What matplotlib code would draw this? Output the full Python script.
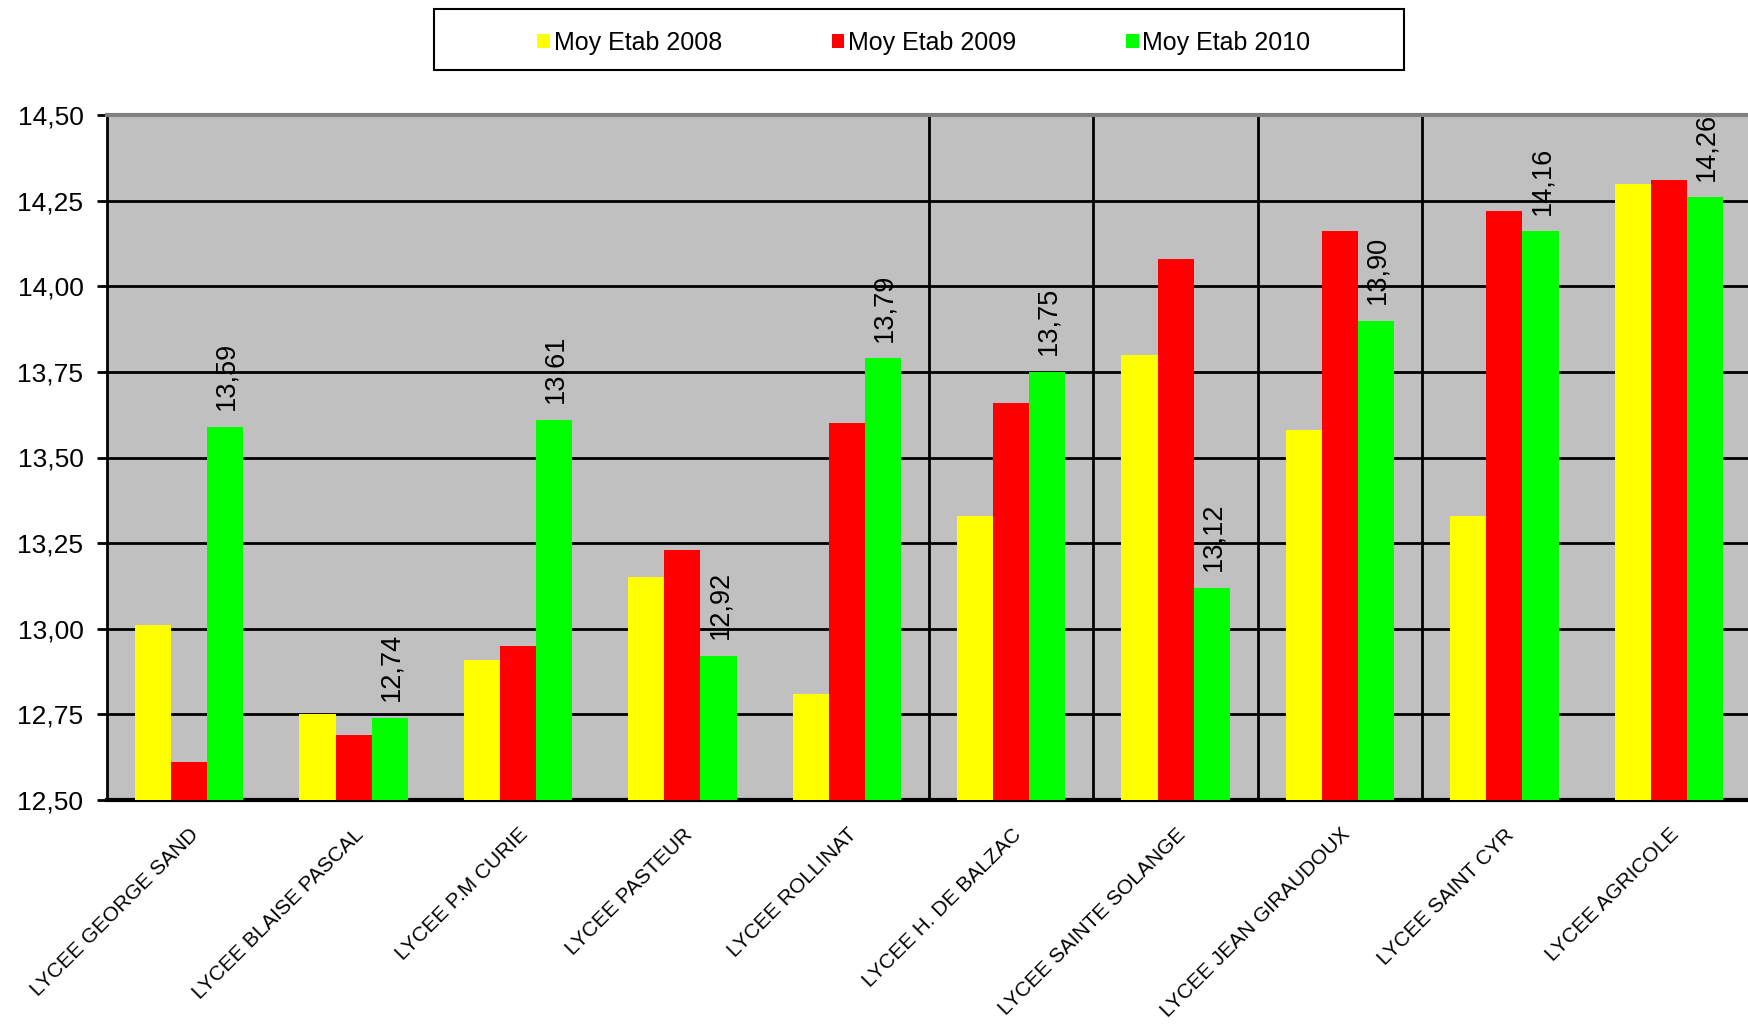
import matplotlib
matplotlib.use("Agg")
import matplotlib.pyplot as plt
import numpy as np
from matplotlib.ticker import FuncFormatter, MultipleLocator
from matplotlib.patches import Rectangle, Patch

plt.rcParams['font.family'] = ['Liberation Sans', 'DejaVu Sans']

categories = ["LYCEE GEORGE SAND", "LYCEE BLAISE PASCAL", "LYCEE P.M CURIE",
              "LYCEE PASTEUR", "LYCEE ROLLINAT", "LYCEE H. DE BALZAC",
              "LYCEE SAINTE SOLANGE", "LYCEE JEAN GIRAUDOUX", "LYCEE SAINT CYR",
              "LYCEE AGRICOLE"]
series_names = ["Moy Etab 2008", "Moy Etab 2009", "Moy Etab 2010"]
moy_2008 = [13.01, 12.75, 12.91, 13.15, 12.81, 13.33, 13.80, 13.58, 13.33, 14.30]
moy_2009 = [12.61, 12.69, 12.95, 13.23, 13.60, 13.66, 14.08, 14.16, 14.22, 14.31]
moy_2010 = [13.59, 12.74, 13.61, 12.92, 13.79, 13.75, 13.12, 13.90, 14.16, 14.26]
colors = ["#FFFF00", "#FF0000", "#00FF00"]
separator_after = [4, 5, 6, 7]  # vertical lines after these category indices

W, H = 1749, 1026
fig = plt.figure(figsize=(W / 100, H / 100), dpi=100)
ax = fig.add_axes([107 / W, 1 - 800 / H, (1751 - 107) / W, (800 - 115) / H])
ax.set_facecolor("#C0C0C0")

x = np.arange(len(categories))
bw = 0.22
all_series = [moy_2008, moy_2009, moy_2010]
for i, (vals, col) in enumerate(zip(all_series, colors)):
    ax.bar(x + (i - 1) * bw, vals, width=bw, color=col, edgecolor='none',
           zorder=3, label=series_names[i])

# labels on 2010 bars
for xi, v in zip(x, moy_2010):
    ax.annotate(f"{v:.2f}".replace('.', ','), xy=(xi + bw, v), xytext=(1, 12),
                textcoords='offset points', rotation=90, ha='center', va='bottom',
                fontsize=19.5, color='black', zorder=5, annotation_clip=False)

ax.set_xlim(-0.5, len(categories) - 0.5)
ax.set_ylim(12.5, 14.5)
ax.yaxis.set_major_locator(MultipleLocator(0.25))
ax.yaxis.set_major_formatter(FuncFormatter(lambda v, p: f"{v:.2f}".replace('.', ',')))
ax.yaxis.grid(True, color='black', linewidth=2, zorder=1)
ax.set_axisbelow(True)
for s in separator_after:
    ax.axvline(s + 0.5, color='black', linewidth=2, zorder=1)

ax.set_xticks(x)
ax.set_xticklabels(categories, rotation=45, ha='right', va='top',
                   rotation_mode='anchor', fontsize=15)
ax.tick_params(axis='x', length=0, pad=18)
ax.tick_params(axis='y', length=7, width=2, pad=10, labelsize=19, direction='out')

ax.spines['left'].set_color('black')
ax.spines['left'].set_linewidth(2)
ax.spines['bottom'].set_color('black')
ax.spines['bottom'].set_linewidth(3)
ax.spines['top'].set_color('#808080')
ax.spines['top'].set_linewidth(3)
ax.spines['right'].set_visible(False)

# legend box
fig.patches.append(Rectangle((434 / W, 1 - 70 / H), 970 / W, 61 / H,
                             transform=fig.transFigure, fill=False,
                             edgecolor='black', linewidth=1.5))
handles = [Patch(facecolor=c, edgecolor='none') for c in colors]
fig.legend(handles, series_names, loc='center', bbox_to_anchor=(924 / W, 1 - 43 / H),
           ncol=3, frameon=False, fontsize=18, handlelength=0.5, handleheight=0.5,
           handletextpad=0.15, columnspacing=4.4)

fig.savefig("out.png", dpi=100)
